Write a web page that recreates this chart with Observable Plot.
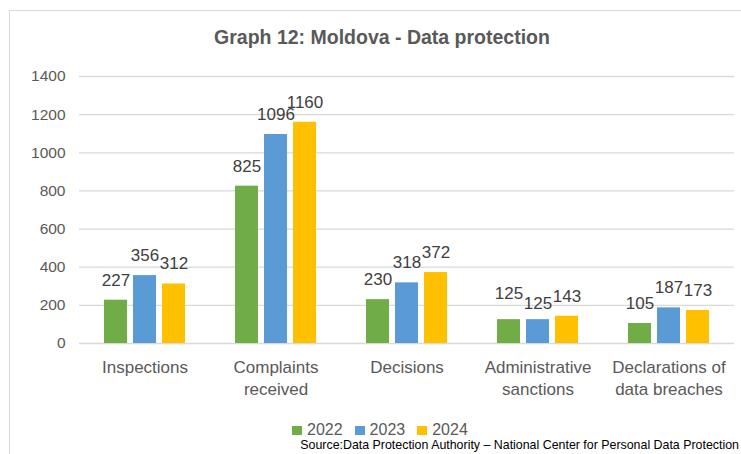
<!DOCTYPE html>
<html>
<head>
<meta charset="utf-8">
<script src="https://cdn.jsdelivr.net/npm/d3@7"></script>
<script src="https://cdn.jsdelivr.net/npm/@observablehq/plot@0.6"></script>
<style>
  html, body { margin: 0; padding: 0; background: #fff; }
  #chart { position: relative; width: 741px; height: 454px; overflow: hidden; background: #fff; font-family: "Liberation Sans", Arial, sans-serif; }
  #frame { position: absolute; left: 9px; top: 10px; width: 800px; height: 500px; border: 1.5px solid #d9d9d9; box-sizing: border-box; }
  #title { position: absolute; left: 0; width: 764px; top: 26px; text-align: center; font-size: 19.5px; font-weight: bold; color: #595959; }
  #plot { position: absolute; left: 0; top: 60px; }
  #legend { position: absolute; left: 292px; top: 421px; display: flex; align-items: center; font-size: 16px; color: #595959; }
  #legend .item { display: flex; align-items: center; margin-right: 12px; }
  #legend .sw { width: 10px; height: 9px; margin-right: 5px; }
  #source { position: absolute; right: 2px; top: 438px; font-family: "Liberation Sans Narrow", "Liberation Sans", Arial, sans-serif; font-size: 12.4px; color: #000; white-space: nowrap; }
</style>
</head>
<body>
<div id="chart">
  <div id="frame"></div>
  <div id="title">Graph 12: Moldova - Data protection</div>
  <div id="plot"></div>
  <div id="legend"></div>
  <div id="source">Source:Data Protection Authority – National Center for Personal Data Protection</div>
</div>
<script>
const categories = ["Inspections", "Complaints\nreceived", "Decisions", "Administrative\nsanctions", "Declarations of\ndata breaches"];
const years = ["2022", "2023", "2024"];
const v2022 = [227, 825, 230, 125, 105];
const v2023 = [356, 1096, 318, 125, 187];
const v2024 = [312, 1160, 372, 143, 173];
const yTicks = [0, 200, 400, 600, 800, 1000, 1200, 1400];
const colors = ["#70AD47", "#5B9BD5", "#FFC000"];

const series = [v2022, v2023, v2024];
const data = [];
categories.forEach((c, i) => {
  years.forEach((y, j) => data.push({cat: c, year: y, value: series[j][i], ci: i, yi: j}));
});

// Excel nudged the two overlapping "125" labels apart (one up, one down)
const isRaised = d => d.ci === 3 && d.yi === 0;
const isLowered = d => d.ci === 3 && d.yi === 1;
const isNormal = d => !isRaised(d) && !isLowered(d);

const labelOpts = (filter, dy) => ({
  fx: "cat", x: "year", y: "value", text: d => String(d.value),
  filter, dy, fontSize: 17, fill: "#404040"
});

const plot = Plot.plot({
  width: 741,
  height: 343,
  marginLeft: 78,
  marginRight: 6,
  marginTop: 16,
  marginBottom: 60,
  style: {fontFamily: "'Liberation Sans', Arial, sans-serif", background: "transparent"},
  fx: {domain: categories, padding: 0, label: null},
  x: {domain: years, paddingInner: 0.2, paddingOuter: 0.85, axis: null},
  y: {domain: [0, 1400], label: null},
  color: {domain: years, range: colors},
  marks: [
    Plot.gridY(yTicks, {stroke: "#d9d9d9", strokeOpacity: 1, strokeWidth: 1.3}),
    Plot.axisY(yTicks, {tickSize: 0, tickPadding: 14, fontSize: 15.5, fill: "#595959", label: null, tickFormat: d => String(d)}),
    Plot.axisFx({anchor: "bottom", tickSize: 0, tickPadding: 14, fontSize: 17, fill: "#595959", lineHeight: 1.3, label: null}),
    Plot.barY(data, {fx: "cat", x: "year", y: "value", fill: "year"}),
    Plot.text(data, labelOpts(isNormal, -20)),
    Plot.text(data, labelOpts(isRaised, -26)),
    Plot.text(data, labelOpts(isLowered, -16))
  ]
});
document.getElementById("plot").appendChild(plot);

const legend = document.getElementById("legend");
years.forEach((y, i) => {
  const item = document.createElement("div");
  item.className = "item";
  const sw = document.createElement("div");
  sw.className = "sw";
  sw.style.background = colors[i];
  item.appendChild(sw);
  const t = document.createElement("span");
  t.textContent = y;
  item.appendChild(t);
  legend.appendChild(item);
});
</script>
</body>
</html>
